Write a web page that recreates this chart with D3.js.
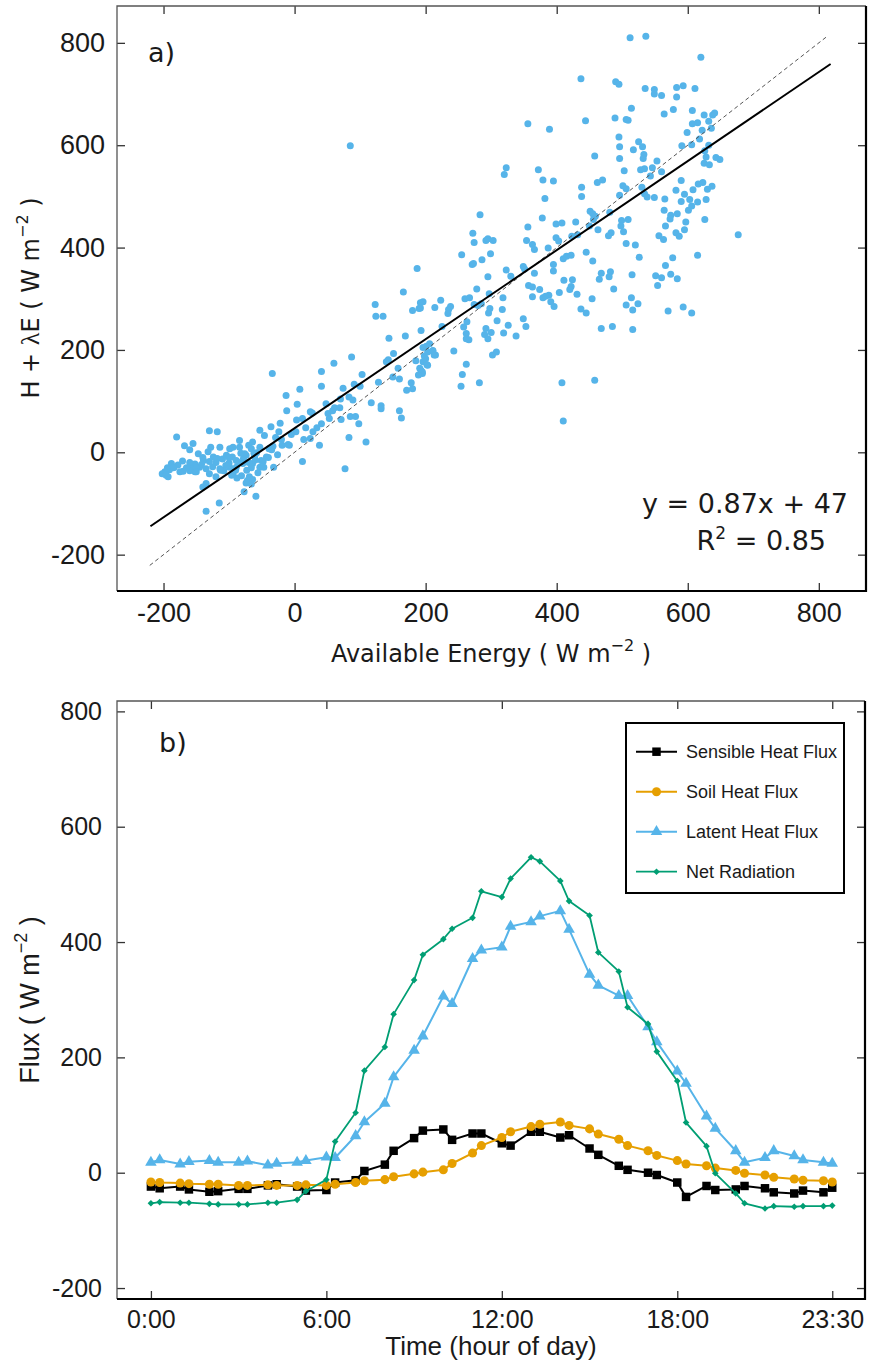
<!DOCTYPE html>
<html>
<head>
<meta charset="utf-8">
<script src="https://cdn.jsdelivr.net/npm/d3@7"></script>
<style>
  body { margin: 0; background: #fff; }
  svg { display: block; background: #fff; }
</style>
</head>
<body>
<svg id="chart" width="869" height="1371"></svg>
<script>

// ---------- panel a) energy balance closure ----------
// [available energy, H + lambda E] in W m-2
const closurePoints = [
  [512,810],[536,813],[620,772],[437,730],[490,724],[495,719],[535,711],[549,709],[549,700],[560,697],
  [583,713],[593,716],[611,711],[583,694],[356,642],[389,631],[444,648],[489,653],[506,650],[509,649],
  [514,672],[564,661],[578,670],[607,668],[625,659],[638,659],[641,663],[632,647],[607,642],[615,644],
  [622,629],[636,633],[599,625],[495,616],[525,607],[496,597],[517,591],[531,597],[533,582],[532,574],
  [496,574],[458,579],[591,599],[606,601],[618,612],[632,600],[626,589],[628,577],[625,565],[633,562],
  [643,576],[649,572],[553,569],[546,556],[560,548],[528,552],[534,554],[543,540],[503,550],[323,556],
  [320,543],[372,552],[379,532],[395,530],[462,527],[470,532],[501,521],[506,515],[496,502],[530,518],
  [534,505],[538,499],[549,498],[438,518],[438,500],[382,496],[378,458],[356,440],[283,464],[272,428],
  [274,410],[292,414],[295,417],[303,414],[255,386],[271,367],[273,369],[286,376],[299,388],[295,343],
  [323,356],[330,344],[354,414],[363,406],[366,396],[387,399],[399,446],[408,448],[429,450],[399,419],
  [403,413],[423,422],[432,425],[451,471],[455,466],[459,461],[456,455],[450,442],[463,435],[481,469],
  [499,453],[509,455],[498,442],[502,431],[483,429],[479,423],[506,408],[520,405],[526,381],[445,391],
  [455,374],[410,378],[415,383],[422,385],[395,367],[395,354],[366,350],[349,363],[351,358],[468,350],
  [482,353],[480,343],[465,338],[487,319],[515,347],[411,336],[424,337],[422,324],[420,318],[431,309],
  [404,312],[388,307],[357,326],[363,323],[374,318],[363,304],[379,302],[383,305],[391,294],[396,285],
  [454,300],[437,280],[445,272],[514,302],[506,288],[524,290],[570,276],[593,284],[606,272],[551,345],
  [560,341],[554,326],[574,348],[584,339],[566,365],[577,380],[556,423],[563,416],[564,473],[574,463],
  [573,456],[584,466],[566,442],[582,429],[587,422],[595,435],[597,450],[565,495],[582,512],[590,531],
  [595,504],[590,490],[601,473],[606,481],[603,494],[608,513],[616,524],[623,527],[615,489],[628,494],
  [630,514],[637,520],[626,455],[615,385],[677,425],[468,242],[485,246],[516,240],[516,278],[349,261],
  [353,246],[338,227],[309,257],[317,279],[326,248],[319,233],[290,230],[292,242],[300,234],[296,272],
  [298,281],[262,232],[258,245],[263,255],[234,271],[235,279],[238,285],[223,297],[214,283],[196,294],
  [190,281],[193,238],[225,246],[260,300],[267,302],[278,319],[280,287],[285,290],[274,289],[297,310],
  [318,302],[295,222],[262,222],[266,220],[243,198],[262,172],[256,152],[254,129],[282,136],[302,190],
  [308,196],[206,212],[201,207],[211,198],[215,190],[200,183],[203,170],[193,160],[195,154],[408,136],
  [458,141],[410,61],[144,223],[169,227],[151,193],[140,177],[143,181],[158,164],[150,147],[160,143],
  [171,121],[180,124],[178,136],[185,179],[196,205],[198,188],[203,196],[211,199],[213,190],[191,164],
  [195,157],[189,151],[196,177],[202,171],[160,81],[163,67],[132,91],[132,85],[117,97],[128,137],
  [87,186],[60,174],[103,152],[100,129],[91,133],[74,125],[70,104],[83,108],[89,102],[85,70],
  [93,70],[98,56],[109,20],[83,29],[77,-32],[41,158],[41,129],[8,123],[-13,111],[4,94],
  [-12,81],[-34,154],[24,79],[27,77],[48,95],[61,87],[69,87],[51,76],[53,66],[58,81],
  [41,56],[34,48],[28,40],[24,27],[38,14],[71,64],[12,66],[17,48],[2,40],[14,25],
  [12,-18],[3,63],[-22,57],[-36,50],[-53,43],[-46,33],[-24,40],[-29,29],[-33,12],[-8,14],
  [-19,14],[-39,7],[-43,-9],[-53,-29],[-64,-22],[-73,-35],[-81,-46],[-69,-48],[-51,-16],[-58,-1],
  [-70,14],[-74,-6],[-84,23],[-95,-9],[-89,-16],[-99,-29],[-110,-13],[-114,10],[-128,10],[-132,1],
  [-139,-16],[-145,-29],[-152,-23],[-160,-29],[-171,-17],[-184,-29],[-188,-22],[-191,-34],[-198,-38],[-202,-42],
  [-196,-45],[-193,-48],[-180,30],[-168,13],[-155,17],[-160,5],[-130,42],[-118,40],[-114,-32],[-120,-48],
  [-104,-6],[-100,-21],[-130,-42],[-135,-61],[-140,-68],[-115,-99],[-135,-115],[-77,-77],[-64,-53],[-59,-86],
  [-74,-60],[-76,-3],[-79,-22],[-89,-29],[-94,-42],[-61,-8],[-47,-29],[-32,-29],[-53,10],[-64,20],
  [-66,7],[-84,10],[-94,10],[-99,7],[-124,-9],[-118,-12],[-147,-3],[-170,-37],[-152,-38],[-160,-36],
  [-85,-20],[-78,-12],[-66,-30],[-60,-15],[-90,-35],[-105,-26],[-70,-20],[-56,-40],[-62,-2],[-48,-18],
  [-82,-2],[-120,-20],[-142,-24],[-165,-30],[-178,-25],[-150,-30],[-125,-28],[-108,-36],[-96,-45],[-72,-55],
  [-66,-62],[-88,-50],[-40,-10],[-35,5],[-20,25],[-10,15],[-5,35],[-26,-5],[-150,-38],[-185,-30],
  [-194,-30],[-175,-38],[-160,-20],[-140,-10],[-130,-18],[-135,-32],[-113,-35],[-100,-10],
  [123,289],[124,266],[135,266],[166,313],[187,359],[192,292],[192,282],[180,277],[85,599]
];
const fitSlope = 0.87;
const fitIntercept = 47;
const fitRange = [-220, 818];      // extent of the regression line
const oneToOneRange = [-221, 813];  // extent of the dashed 1:1 line
const fitText = 'y = 0.87x + 47';
const r2Text = '0.85';
const energyTicks = [-200, 0, 200, 400, 600, 800];

// ---------- panel b) mean diurnal cycle ----------
const timeLabels = [
  '0:00','0:30','1:00','1:30','2:00','2:30','3:00','3:30','4:00','4:30','5:00','5:30',
  '6:00','6:30','7:00','7:30','8:00','8:30','9:00','9:30','10:00','10:30','11:00','11:30',
  '12:00','12:30','13:00','13:30','14:00','14:30','15:00','15:30','16:00','16:30','17:00','17:30',
  '18:00','18:30','19:00','19:30','20:00','20:30','21:00','21:30','22:00','22:30','23:00','23:30'
];
const sensibleHeat = [-24,-27,-24,-29,-33,-32,-28,-28,-22,-20,-24,-31,-30,-17,-13,3,14,38,60,73,75,57,68,68,
  51,47,71,71,61,65,42,31,12,5,0,-4,-17,-42,-23,-30,-29,-23,-27,-34,-36,-31,-34,-26];
const soilHeat = [-16,-17,-18,-19,-20,-20,-22,-22,-21,-22,-22,-21,-22,-20,-17,-14,-12,-7,-2,1,5,16,34,47,
  61,71,80,84,88,82,76,67,58,47,38,30,21,15,12,8,4,-1,-4,-8,-11,-13,-14,-16];
const latentHeat = [18,22,15,19,21,18,18,20,13,16,18,21,27,26,64,88,120,166,212,237,306,293,371,386,
  391,427,435,445,454,422,344,325,307,307,253,227,176,155,98,77,38,18,26,38,29,22,18,16];
const netRadiation = [-53,-51,-52,-52,-54,-55,-55,-55,-52,-52,-47,-32,-12,54,104,177,218,275,334,378,405,423,442,488,
  478,510,547,540,506,471,446,382,349,287,258,210,159,87,46,-1,-36,-53,-62,-58,-59,-58,-58,-57];
const seriesNames = ['Sensible Heat Flux', 'Soil Heat Flux', 'Latent Heat Flux', 'Net Radiation'];
const timeTickLabels = ['0:00', '6:00', '12:00', '18:00', '23:30'];
const fluxTicks = [-200, 0, 200, 400, 600, 800];

// times were plotted as hour.minute decimals (0:30 -> 0.30)
let toHourValue = function(label) {
    let parts = label.split(':');
    return +parts[0] + (+parts[1]) / 100;
};

// plain hyphen for negatives, as in the original figure
let plainNumber = function(d) { return d < 0 ? '-' + Math.abs(d) : String(d); };

const sans = '"Liberation Sans", Arial, Helvetica, sans-serif';
const verdana = '"DejaVu Sans", Verdana, sans-serif';
const ink = '#1a1a1a';

let svg = d3.select('#chart');

/** frame with inward ticks on all four sides, labels on left and bottom */
let drawFrame = function(x, y, args) {
    let [x0, x1] = x.range();
    let [y0, y1] = y.range(); // y0 = bottom
    let g = svg.append('g');
    let styleAxis = function(a) {
        a.select('.domain').remove();
        a.selectAll('.tick line').attr('stroke', '#333').attr('stroke-width', 1.3);
        a.attr('font-family', sans).attr('font-size', args.fontSize);
        a.selectAll('.tick text').attr('fill', ink);
    };
    g.append('g').attr('transform', `translate(${x0},0)`)
        .call(d3.axisLeft(y).tickValues(args.yTicks).tickSize(-8).tickPadding(args.padLeft).tickFormat(plainNumber))
        .call(styleAxis);
    g.append('g').attr('transform', `translate(0,${y0})`)
        .call(d3.axisBottom(x).tickValues(args.xTicks).tickSize(-8).tickPadding(args.padBottom).tickFormat(args.xFormat))
        .call(styleAxis);
    g.append('g').attr('transform', `translate(${x1},0)`)
        .call(d3.axisRight(y).tickValues(args.yTicks).tickSize(-8).tickFormat(''))
        .call(styleAxis);
    g.append('g').attr('transform', `translate(0,${y1})`)
        .call(d3.axisTop(x).tickValues(args.xTicks).tickSize(-8).tickFormat(''))
        .call(styleAxis);
    // lighter left/top edges, heavier right/bottom edges like the original
    g.append('path').attr('d', `M${x0},${y0}V${y1}H${x1}`)
        .attr('fill', 'none').attr('stroke', '#555').attr('stroke-width', 1.3);
    g.append('path').attr('d', `M${x0},${y0}H${x1}V${y1}`)
        .attr('fill', 'none').attr('stroke', '#000').attr('stroke-width', 2.2);
};

// ---------------- panel a ----------------
let xa = d3.scaleLinear().domain([-271, 872]).range([117, 866]);
let ya = d3.scaleLinear().domain([-271, 872]).range([591, 6]);

svg.append('g').selectAll('circle')
    .data(closurePoints)
    .enter().append('circle')
        .attr('cx', d => xa(d[0]))
        .attr('cy', d => ya(d[1]))
        .attr('r', 3.5)
        .attr('fill', '#56B4E9');

svg.append('line')
    .attr('x1', xa(oneToOneRange[0])).attr('y1', ya(oneToOneRange[0]))
    .attr('x2', xa(oneToOneRange[1])).attr('y2', ya(oneToOneRange[1]))
    .attr('stroke', '#555').attr('stroke-width', 1).attr('stroke-dasharray', '4,3');

svg.append('line')
    .attr('x1', xa(fitRange[0])).attr('y1', ya(fitSlope * fitRange[0] + fitIntercept))
    .attr('x2', xa(fitRange[1])).attr('y2', ya(fitSlope * fitRange[1] + fitIntercept))
    .attr('stroke', '#000').attr('stroke-width', 2);

drawFrame(xa, ya, {
    xTicks: energyTicks, yTicks: energyTicks, xFormat: plainNumber,
    fontSize: 27, padLeft: 12, padBottom: 12
});

svg.append('text').attr('x', 148).attr('y', 62)
    .attr('font-family', verdana).attr('font-size', 27).attr('fill', ink).text('a)');

svg.append('text').attr('x', 848).attr('y', 513).attr('text-anchor', 'end')
    .attr('font-family', verdana).attr('font-size', 27).attr('fill', ink).text(fitText);

let r2 = svg.append('text').attr('x', 826).attr('y', 550).attr('text-anchor', 'end')
    .attr('font-family', verdana).attr('font-size', 27).attr('fill', ink);
r2.append('tspan').text('R');
r2.append('tspan').attr('dy', -11).attr('font-size', 17).text('2');
r2.append('tspan').attr('dy', 11).text('\u00a0=\u00a0' + r2Text);

let xTitle = svg.append('text').attr('x', 491).attr('y', 662).attr('text-anchor', 'middle')
    .attr('font-family', verdana).attr('font-size', 24).attr('fill', ink);
xTitle.append('tspan').text('Available Energy ( W m');
xTitle.append('tspan').attr('dy', -11).attr('font-size', 16).text('\u22122');
xTitle.append('tspan').attr('dy', 11).text(' )');

let yTitle = svg.append('text').attr('transform', 'translate(39,298) rotate(-90)').attr('text-anchor', 'middle')
    .attr('font-family', verdana).attr('font-size', 24).attr('fill', ink);
yTitle.append('tspan').text('H + ');
yTitle.append('tspan').attr('font-family', '"Liberation Serif", "DejaVu Serif", serif').attr('font-size', 26).text('\u03bb');
yTitle.append('tspan').text('E ( W m');
yTitle.append('tspan').attr('dy', -11).attr('font-size', 16).text('\u22122');
yTitle.append('tspan').attr('dy', 11).text(' )');

// ---------------- panel b ----------------
let xb = d3.scaleLinear().domain([-1.16, 24.42]).range([117, 865]);
let yb = d3.scaleLinear().domain([-219, 818]).range([1299, 701]);

let hours = timeLabels.map(toHourValue);
let seriesValues = [sensibleHeat, soilHeat, latentHeat, netRadiation];
let seriesStyle = [
    { color: '#000000', symbol: d3.symbolSquare,   size: 72, rotate: 0,  width: 2 },
    { color: '#E69F00', symbol: d3.symbolCircle,   size: 64, rotate: 0,  width: 2 },
    { color: '#56B4E9', symbol: d3.symbolTriangle, size: 58, rotate: 0,  width: 2 },
    { color: '#009E73', symbol: d3.symbolSquare,   size: 22, rotate: 45, width: 1.8 },
];

let fluxLine = d3.line()
    .x(d => xb(d.t))
    .y(d => yb(d.v));

seriesValues.forEach(function(values, i) {
    let st = seriesStyle[i];
    let pts = values.map((v, j) => ({ t: hours[j], v: v }));
    let g = svg.append('g').attr('class', 'series');
    g.append('path').datum(pts)
        .attr('d', fluxLine)
        .attr('fill', 'none').attr('stroke', st.color).attr('stroke-width', st.width)
        .attr('stroke-linejoin', 'round');
    g.selectAll('path.marker').data(pts)
        .enter().append('path')
            .attr('class', 'marker')
            .attr('d', d3.symbol(st.symbol, st.size))
            .attr('transform', d => `translate(${xb(d.t)},${yb(d.v)}) rotate(${st.rotate})`)
            .attr('fill', st.color);
});

drawFrame(xb, yb, {
    xTicks: timeTickLabels.map(toHourValue), yTicks: fluxTicks,
    xFormat: (d, i) => timeTickLabels[i],
    fontSize: 25, padLeft: 15, padBottom: 11
});

svg.append('text').attr('x', 159).attr('y', 752)
    .attr('font-family', verdana).attr('font-size', 27).attr('fill', ink).text('b)');

svg.append('text').attr('x', 491).attr('y', 1355).attr('text-anchor', 'middle')
    .attr('font-family', sans).attr('font-size', 26).attr('fill', ink).text('Time (hour of day)');

let fTitle = svg.append('text').attr('transform', 'translate(39,1000) rotate(-90)').attr('text-anchor', 'middle')
    .attr('font-family', sans).attr('font-size', 27).attr('fill', ink);
fTitle.append('tspan').text('Flux ( W m');
fTitle.append('tspan').attr('dy', -12).attr('font-size', 18).text('\u22122');
fTitle.append('tspan').attr('dy', 12).text(' )');

// legend
let legend = svg.append('g').attr('transform', 'translate(626,723)');
legend.append('rect').attr('width', 218).attr('height', 170)
    .attr('fill', '#fff').attr('stroke', '#000').attr('stroke-width', 2);
seriesNames.forEach(function(name, i) {
    let st = seriesStyle[i];
    let row = legend.append('g').attr('transform', `translate(0,${28.7 + 40 * i})`);
    row.append('line').attr('x1', 10).attr('x2', 51)
        .attr('stroke', st.color).attr('stroke-width', st.width);
    row.append('path').attr('d', d3.symbol(st.symbol, st.size))
        .attr('transform', `translate(30.5,0) rotate(${st.rotate})`).attr('fill', st.color);
    row.append('text').attr('x', 60).attr('dy', '0.35em')
        .attr('font-family', sans).attr('font-size', 18).attr('fill', ink).text(name);
});

</script>
</body>
</html>
